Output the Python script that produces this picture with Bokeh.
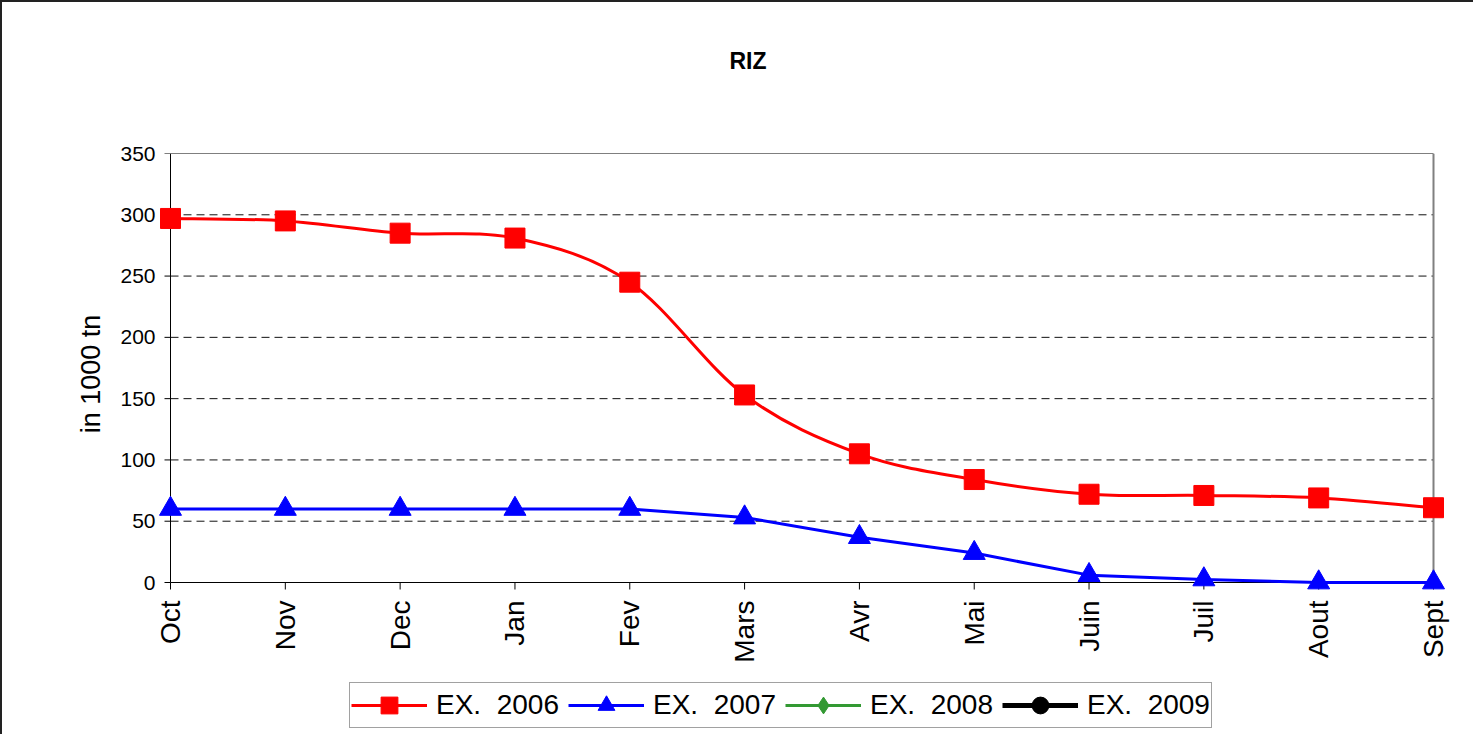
import math
import numpy as np
from bokeh.plotting import figure
from bokeh.layouts import column
from bokeh.models import (Range1d, FixedTicker, Legend, LegendItem, Title,
                          ColumnDataSource)
from bokeh.embed import file_html
from bokeh.resources import INLINE

# ---- data ----
months = ["Oct", "Nov", "Dec", "Jan", "Fev", "Mars", "Avr", "Mai", "Juin", "Juil", "Aout", "Sept"]
ex2006 = [297, 295, 285, 281, 245, 153, 105, 84, 72, 71, 69, 61]
ex2007 = [60, 60, 60, 60, 60, 53, 37, 24, 6, 2.5, 0, 0]
ex2008 = []
ex2009 = []
y_ticks = [0, 50, 100, 150, 200, 250, 300, 350]
title_text = "RIZ"
y_label = "in 1000 tn"
series_names = ["EX.  2006", "EX.  2007", "EX.  2008", "EX.  2009"]
colors = ["#ff0000", "#0000ff", "#339933", "#000000"]
markers = ["square", "triangle", "diamond", "circle"]
marker_sizes = [20, 22, 20, 18]
line_widths = [3, 3, 3, 5]

FONT = "Liberation Sans"
xs = list(range(len(months)))
x_last = len(months) - 1
y_max = y_ticks[-1]

# plot-area geometry (pixels); a small pad keeps edge markers unclipped
PLOT_W, PLOT_H, PAD = 1263, 429, 12
ux = x_last / PLOT_W      # data units per pixel (x)
uy = y_max / PLOT_H       # data units per pixel (y)

p = figure(width=1473, height=670, output_backend="svg", toolbar_location=None,
           x_range=Range1d(-PAD * ux, x_last + PAD * ux),
           y_range=Range1d(-PAD * uy, y_max),
           min_border_left=168 - PAD, min_border_right=42 - PAD, min_border_top=151,
           min_border_bottom=90 - PAD, background_fill_color="white",
           border_fill_color="white", outline_line_color=None)
p.styles = {"border-left": "2px solid #222", "border-top": "2px solid #222"}

# grid (dashed) and plot-area box, axis lines and ticks
p.xgrid.grid_line_color = None
p.ygrid.grid_line_color = None
gy = y_ticks[1:-1]
p.segment(x0=[0] * len(gy), y0=gy, x1=[x_last] * len(gy), y1=gy,
          line_color="#111111", line_width=1, line_dash="8 5")
p.segment(x0=[0], y0=[y_max], x1=[x_last], y1=[y_max], line_color="black", line_width=1)
p.segment(x0=[x_last], y0=[0], x1=[x_last], y1=[y_max], line_color="#808080", line_width=2)
p.segment(x0=[0], y0=[0], x1=[0], y1=[y_max], line_color="black", line_width=1)
p.segment(x0=[0], y0=[0], x1=[x_last], y1=[0], line_color="black", line_width=1)
p.segment(x0=[-6 * ux] * len(y_ticks), y0=y_ticks, x1=[0] * len(y_ticks), y1=y_ticks,
          line_color="black", line_width=1)
p.segment(x0=xs, y0=[-7 * uy] * len(xs), x1=xs, y1=[0] * len(xs),
          line_color="black", line_width=1)

# axes (labels only; lines/ticks drawn above at the data edge)
p.yaxis.ticker = FixedTicker(ticks=y_ticks)
p.yaxis.axis_line_color = None
p.yaxis.major_tick_line_color = None
p.yaxis.minor_tick_line_color = None
p.yaxis.major_tick_out = 0
p.yaxis.major_tick_in = 0
p.yaxis.minor_tick_out = 0
p.yaxis.major_label_text_font = FONT
p.yaxis.major_label_text_font_size = "21px"
p.yaxis.major_label_text_color = "black"
p.yaxis.major_label_standoff = 3
p.yaxis.axis_label = y_label
p.yaxis.axis_label_text_font = FONT
p.yaxis.axis_label_text_font_size = "27px"
p.yaxis.axis_label_text_font_style = "normal"
p.yaxis.axis_label_text_color = "black"
p.yaxis.axis_label_standoff = 11

p.xaxis.ticker = FixedTicker(ticks=xs)
p.xaxis.major_label_overrides = {i: m for i, m in enumerate(months)}
p.xaxis.major_label_orientation = math.pi / 2
p.xaxis.axis_line_color = None
p.xaxis.major_tick_line_color = None
p.xaxis.minor_tick_line_color = None
p.xaxis.major_tick_out = 0
p.xaxis.major_tick_in = 0
p.xaxis.minor_tick_out = 0
p.xaxis.major_label_text_font = FONT
p.xaxis.major_label_text_font_size = "28px"
p.xaxis.major_label_text_color = "black"
p.xaxis.major_label_standoff = 6

# ---- EX. 2006: smoothed curve (cubic Bezier segments built from the points) ----
x = np.array(xs, dtype=float)
y = np.array(ex2006, dtype=float)
xp = np.concatenate([[x[0]], x, [x[-1]]])
yp = np.concatenate([[y[0]], y, [y[-1]]])
n = len(x) - 1
seg = dict(
    x0=x[:-1], y0=y[:-1], x1=x[1:], y1=y[1:],
    cx0=x[:-1] + (xp[2:n + 2] - xp[0:n]) / 6.0,
    cy0=y[:-1] + (yp[2:n + 2] - yp[0:n]) / 6.0,
    cx1=x[1:] - (xp[3:n + 3] - xp[1:n + 1]) / 6.0,
    cy1=y[1:] - (yp[3:n + 3] - yp[1:n + 1]) / 6.0,
)
p.bezier(x0="x0", y0="y0", x1="x1", y1="y1", cx0="cx0", cy0="cy0",
         cx1="cx1", cy1="cy1", source=ColumnDataSource(seg),
         line_color=colors[0], line_width=line_widths[0])
p.scatter(x=xs, y=ex2006, marker=markers[0], size=marker_sizes[0],
          fill_color=colors[0], line_color=colors[0])

# ---- EX. 2007 ----
p.line(x=xs, y=ex2007, line_color=colors[1], line_width=line_widths[1])
p.scatter(x=xs, y=ex2007, marker=markers[1], size=marker_sizes[1],
          fill_color=colors[1], line_color=colors[1])

# ---- EX. 2008 / 2009 (no data) ----
for i, ser in ((2, ex2008), (3, ex2009)):
    p.line(x=xs[:len(ser)], y=ser, line_color=colors[i], line_width=line_widths[i])
    p.scatter(x=xs[:len(ser)], y=ser, marker=markers[i], size=marker_sizes[i],
              fill_color=colors[i], line_color=colors[i])

# ---- title: spacer + title panels above the frame ----
spacer = Title(text=" ", text_font_size="10px", standoff=66, text_color="white")
p.add_layout(spacer, "above")
title = Title(text=title_text, align="left", offset=559 + PAD, standoff=0,
              vertical_align="middle",
              text_font=FONT, text_font_size="23px", text_font_style="bold",
              text_color="black")
p.add_layout(title, "above")

# ---- legend strip under the chart (legend-sample renderers, no data shown) ----
lg = figure(width=1473, height=64, output_backend="svg", toolbar_location=None,
            x_range=Range1d(0, 1), y_range=Range1d(0, 1),
            x_axis_type=None, y_axis_type=None,
            min_border_left=0, min_border_right=0, min_border_top=0,
            min_border_bottom=0, outline_line_color=None,
            background_fill_color="white", border_fill_color="white")
lg.styles = {"border-left": "2px solid #222"}
lg.xgrid.grid_line_color = None
lg.ygrid.grid_line_color = None
items = []
for i, name in enumerate(series_names):
    lr = lg.line(x=[np.nan], y=[np.nan], line_color=colors[i], line_width=line_widths[i])
    sr = lg.scatter(x=[np.nan], y=[np.nan], marker=markers[i], size=marker_sizes[i],
                    fill_color=colors[i], line_color=colors[i])
    items.append(LegendItem(label=name, renderers=[lr, sr]))

legend = Legend(items=items, orientation="horizontal", location=(179 + PAD, 6),
                label_text_font=FONT, label_text_font_size="28px",
                label_text_color="black", glyph_width=76, glyph_height=42,
                label_standoff=9, spacing=9, padding=1, margin=0,
                border_line_color="#444444", border_line_width=1,
                background_fill_color="white", background_fill_alpha=1.0)
lg.add_layout(legend, "center")

layout = column(p, lg, spacing=0)
open("out.html", "w").write(file_html(layout, INLINE))
